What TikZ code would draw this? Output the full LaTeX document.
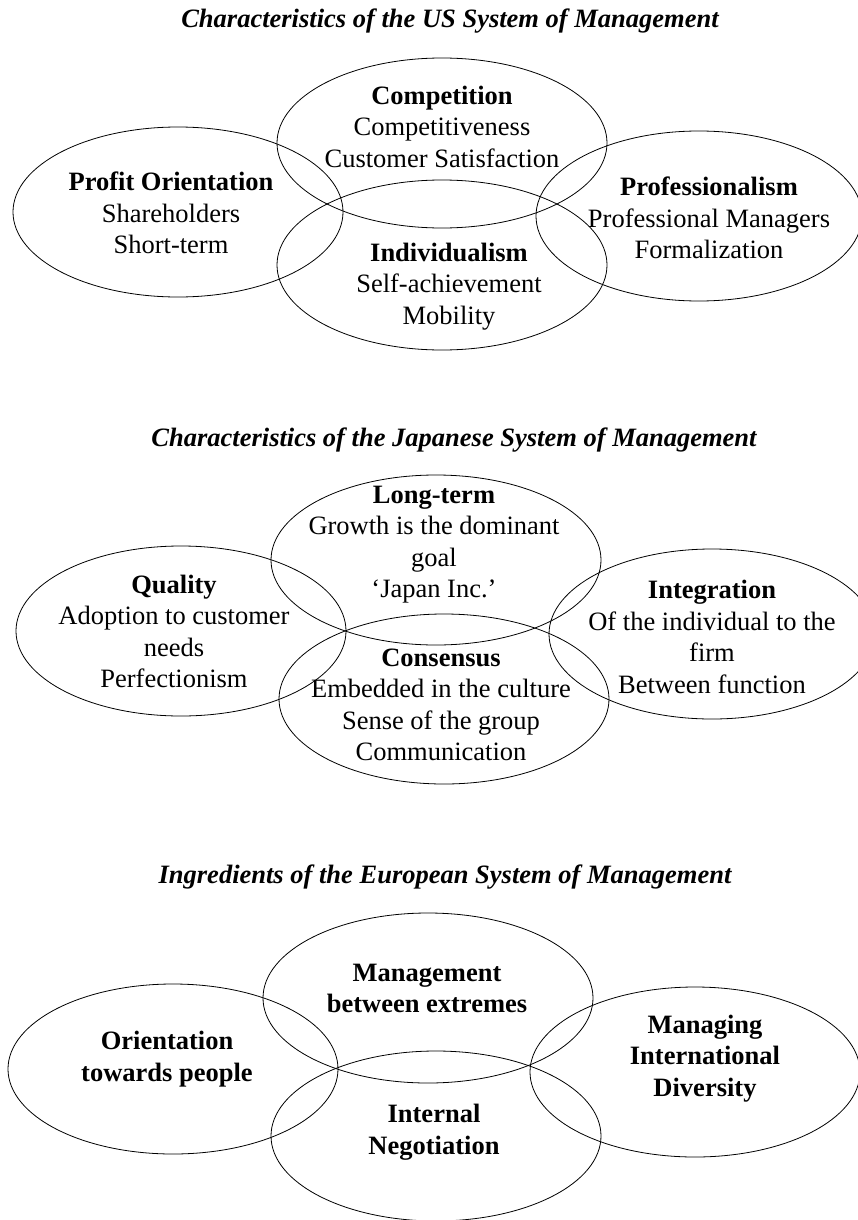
\documentclass[tikz,border=0pt]{standalone}
\usepackage{fontspec}
\setmainfont{Liberation Serif}
\usetikzlibrary{shapes.geometric}
\tikzset{
  ell/.style={draw, ellipse, inner sep=0pt, line width=0.8pt, minimum width=330pt, minimum height=170pt},
  ttl/.style={inner sep=0pt, font=\fontsize{26.5}{31.5}\selectfont\bfseries\itshape},
  txt/.style={inner sep=0pt, align=center, font=\fontsize{26.5}{31.5}\selectfont},
}
\begin{document}
\begin{tikzpicture}[x=1pt,y=-1pt]
\useasboundingbox (0,0) rectangle (857,1220);
% ---------------- US ----------------
\node[ttl] (t1) at (450,21) {Characteristics of the US System of Management};
\node[ell] (e1a) at (442,143) {};
\node[ell] (e1b) at (178,212) {};
\node[ell] (e1c) at (442,265) {};
\node[ell, minimum width=326pt] (e1d) at (699,216) {};
\node[txt] (x1a) at (442,126.5) {\textbf{Competition}\\Competitiveness\\Customer Satisfaction};
\node[txt] (x1b) at (171,213) {\textbf{Profit Orientation}\\Shareholders\\Short-term};
\node[txt] (x1c) at (449,286.5) {\textbf{Individualism}\\Self-achievement\\Mobility};
\node[txt] (x1d) at (709,218) {\textbf{Professionalism}\\Professional Managers\\Formalization};
% ---------------- Japan ----------------
\node[ttl] (t2) at (454,440) {Characteristics of the Japanese System of Management};
\node[ell] (e2a) at (436,560) {};
\node[ell] (e2b) at (181,631) {};
\node[ell] (e2c) at (444,699) {};
\node[ell, minimum width=326pt] (e2d) at (712,634) {};
\node[txt] (x2a) at (434,544.5) {\textbf{Long-term}\\Growth is the dominant\\goal\\`Japan Inc.'};
\node[txt] (x2b) at (174,631.5) {\textbf{Quality}\\Adoption to customer\\needs\\Perfectionism};
\node[txt] (x2c) at (441,705) {\textbf{Consensus}\\Embedded in the culture\\Sense of the group\\Communication};
\node[txt] (x2d) at (712,637) {\textbf{Integration}\\Of the individual to the\\firm\\Between function};
% ---------------- Europe ----------------
\node[ttl] (t3) at (445,877) {Ingredients of the European System of Management};
\node[ell] (e3a) at (428,998) {};
\node[ell] (e3b) at (173,1069) {};
\node[ell] (e3c) at (436,1136) {};
\node[ell] (e3d) at (695,1072) {};
\node[txt, font=\fontsize{26.5}{31.5}\selectfont\bfseries] (x3a) at (427,988.5) {Management\\between extremes};
\node[txt, font=\fontsize{26.5}{31.5}\selectfont\bfseries] (x3b) at (167,1059) {Orientation\\towards people};
\node[txt, font=\fontsize{26.5}{31.5}\selectfont\bfseries] (x3c) at (434,1132) {Internal\\Negotiation};
\node[txt, font=\fontsize{26.5}{31.5}\selectfont\bfseries] (x3d) at (705,1058.5) {Managing\\International\\Diversity};
\end{tikzpicture}
\end{document}
